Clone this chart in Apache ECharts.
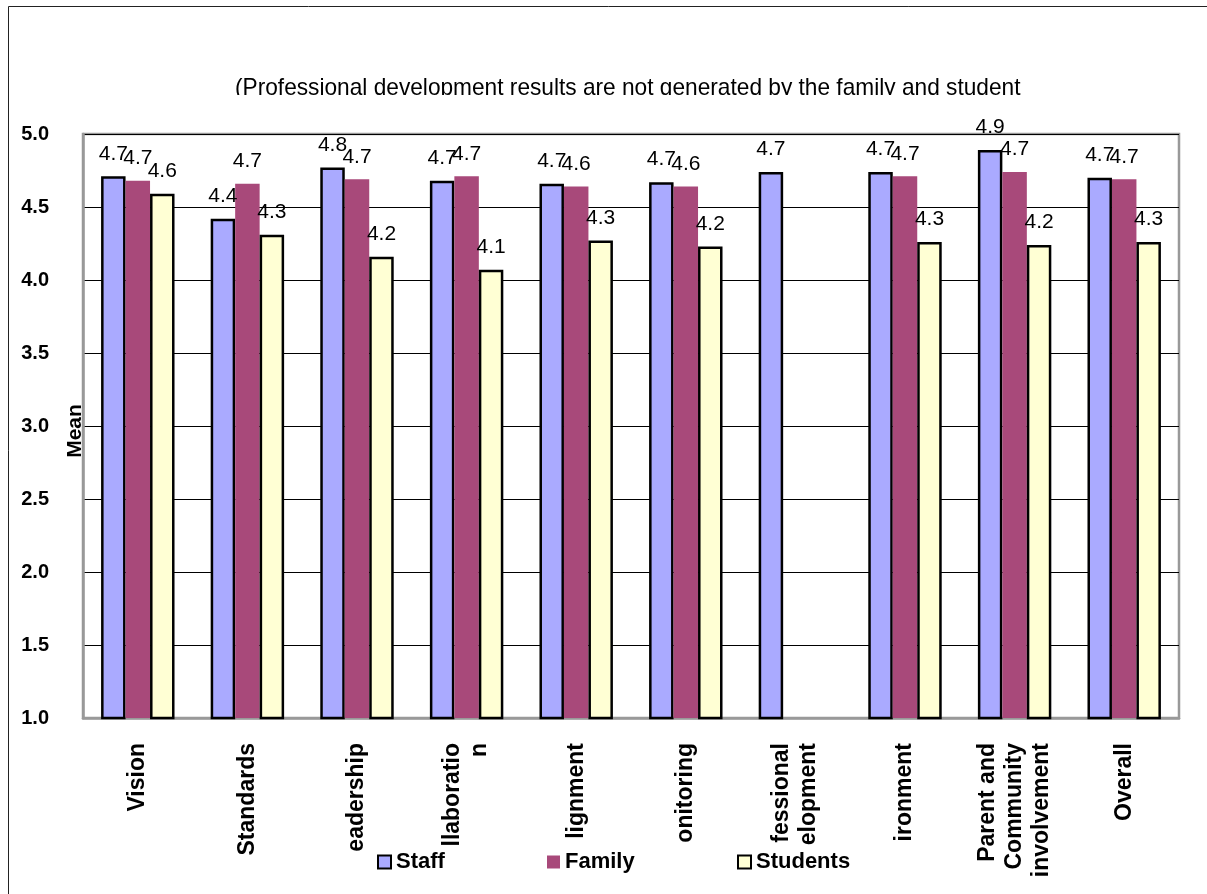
<!DOCTYPE html>
<html>
<head>
<meta charset="utf-8">
<title>Mean by area</title>
<script src="https://cdn.jsdelivr.net/npm/echarts@6/dist/echarts.min.js"></script>
<style>
	html,body{margin:0;padding:0;background:#fff;}
	#chart{width:1207px;height:894px;}
</style>
</head>
<body>
<div id="chart"></div>
<script>
// labels as they show under the axis (the original boxes cut them off)
var categories = ['Vision', 'Standards', 'eadership', 'llaboratio\nn', 'lignment', 'onitoring',
	'fessional\nelopment', 'ironment', 'Parent and\nCommunity\ninvolvement', 'Overall'];
var staff    = [4.71, 4.42, 4.77, 4.68, 4.66, 4.67, 4.74, 4.74, 4.89, 4.70];
var family   = [4.68, 4.66, 4.69, 4.71, 4.64, 4.64, null, 4.71, 4.74, 4.69];
var students = [4.59, 4.31, 4.16, 4.07, 4.27, 4.23, null, 4.26, 4.24, 4.26];
var yTicks = ['1.0', '1.5', '2.0', '2.5', '3.0', '3.5', '4.0', '4.5', '5.0'];
var note = '(Professional development results are not generated by the family and student';

var FONT = "'Liberation Sans', Arial, sans-serif";

(function () {
	"use strict";
	var chart = echarts.init(document.getElementById('chart'));

	var barLabel = {
		show: true,
		position: 'top',
		distance: 12,
		fontFamily: FONT,
		fontSize: 21,
		color: '#000',
		formatter: function (p) {
			return p.value == null ? '' : p.value.toFixed(1);
		}
	};

	var makeSeries = function (name, data, color, bordered) {
		return {
			name: name,
			type: 'bar',
			data: data,
			barGap: 0,
			barCategoryGap: '33%',
			itemStyle: {
				color: color,
				borderColor: bordered ? '#000' : color,
				borderWidth: bordered ? 2.5 : 0
			},
			label: barLabel
		};
	};

	var legendText = {fontFamily: FONT, fontSize: 22, fontWeight: 'bold', color: '#000'};
	var makeLegend = function (name, left) {
		return {
			data: [name],
			left: left,
			top: 851,
			padding: 0,
			itemWidth: 13,
			itemHeight: 13,
			itemGap: 0,
			textStyle: legendText,
			icon: 'rect'
		};
	};

	var option = {
		backgroundColor: '#fff',
		animation: false,
		graphic: [
			{
				type: 'rect',
				silent: true,
				shape: {x: 8.5, y: 6.5, width: 1400, height: 1000},
				style: {fill: 'none', stroke: '#222', lineWidth: 1}
			},
			{
				type: 'text',
				x: 235,
				y: 76,
				scaleX: 0.945,
				style: {text: note, font: '24px ' + FONT, fill: '#000'}
			},
			{
				// the note is cut off at the bottom in the original
				type: 'rect',
				silent: true,
				shape: {x: 150, y: 95, width: 950, height: 14},
				style: {fill: '#fff'}
			},
			{
				type: 'text',
				x: 75,
				y: 431,
				rotation: Math.PI / 2,
				style: {text: 'Mean', font: 'bold 21px ' + FONT, fill: '#000', align: 'center', verticalAlign: 'middle'}
			}
		],
		legend: [
			makeLegend('Staff', 377),
			makeLegend('Family', 547),
			makeLegend('Students', 737)
		],
		grid: {
			left: 83,
			right: 28,
			top: 134,
			bottom: 176,
			show: true,
			borderColor: '#999',
			borderWidth: 2.5
		},
		xAxis: {
			type: 'category',
			data: categories,
			axisLine: {lineStyle: {color: '#999', width: 2.5}},
			axisTick: {show: false},
			axisLabel: {
				interval: 0,
				rotate: 90,
				margin: 25,
				fontFamily: FONT,
				fontSize: 23,
				fontWeight: 'bold',
				lineHeight: 27,
				color: '#000'
			}
		},
		yAxis: {
			type: 'value',
			min: 1,
			max: 5,
			interval: 0.5,
			axisLine: {show: true, lineStyle: {color: '#999', width: 2.5}},
			axisTick: {show: false},
			splitLine: {lineStyle: {color: '#000', width: 1}},
			axisLabel: {
				margin: 34,
				fontFamily: FONT,
				fontSize: 20,
				fontWeight: 'bold',
				color: '#000',
				formatter: function (v) {
					return yTicks[Math.round((v - 1) / 0.5)];
				}
			}
		},
		series: [
			makeSeries('Staff', staff, '#aaaaff', true),
			makeSeries('Family', family, '#a8497a', false),
			makeSeries('Students', students, '#ffffd4', true)
		]
	};
	chart.setOption(option);
})();
</script>
</body>
</html>
